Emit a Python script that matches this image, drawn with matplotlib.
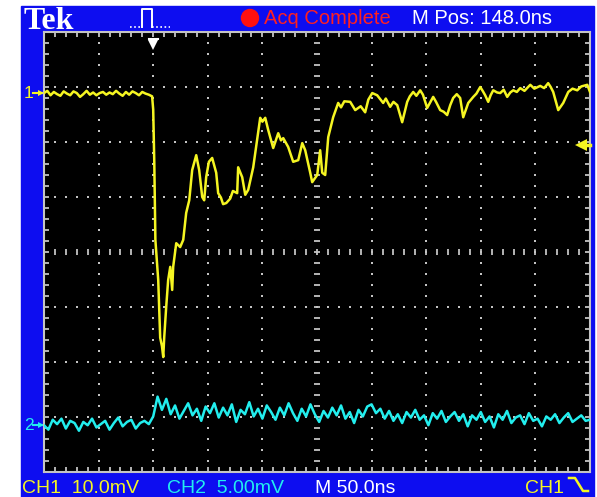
import numpy as np
import matplotlib
matplotlib.use('Agg')
import matplotlib.pyplot as plt
from matplotlib.collections import LineCollection
from matplotlib.patches import Rectangle, Ellipse
from matplotlib.lines import Line2D

W, H = 597, 497

# scope settings
ch1_scale = 10.0   # mV/div
ch2_scale = 5.0    # mV/div
ch1_pos = 2.89     # div
ch2_pos = -3.15    # div
trig_level_mv = -9.5

# CH1 before trigger (3 ns steps from -100 ns)
ch1_pre_mv = [0.0, 0.4, -0.4, 0.2, -0.2, -0.5, 0.3, -0.1, -0.4, 0.3,
              0.0, -0.7, -0.2, 0.4, -0.3, 0.1, -0.4, 0.0, 0.2, -0.3,
              0.1, -0.2, 0.4, -0.1, -0.5, 0.2, -0.3, 0.3, 0.0, -0.4,
              0.2, -0.1, -0.3, -0.6]

# CH1 after trigger
ch1_post_t = [0, 1, 2, 4.6, 6.4, 8, 9.2, 10.1, 11.9, 13.7,
              15.6, 17.4, 18.3, 21.1, 24.7, 27.5, 30.2, 33, 35.7, 39.4,
              42.1, 44.9, 46.7, 48.5, 51, 54, 57.7, 59.5, 62, 64,
              66.9, 70.5, 73, 76.9, 77.8, 81.5, 84.3, 87, 91.6, 95.2,
              98, 100, 102.6, 105.3, 109.9, 114.5, 117, 119.1, 123.6, 128.2,
              132.8, 136.5, 139.2, 143.8, 145.6, 150.2, 152.9, 154.8, 157.5, 160.3,
              164.8, 169.4, 172, 175, 180.4, 185, 190, 194.1, 197, 200.6,
              205.1, 210.6, 213, 217, 220, 223.5, 228, 232.6, 235, 238.1,
              241, 244.5, 247, 250.9, 256.4, 259, 262.8, 266, 269.2, 272,
              274.7, 278, 281.1, 283.9, 288.5, 293.1, 296, 299.5, 302, 304,
              306.8, 309, 311.4, 315, 317.8, 321, 324.2, 327, 329.7, 333,
              336.1, 340, 345.3, 349, 354.4, 358, 361.7, 364, 366.3, 370.9,
              375.5, 380.1, 384, 388.3, 392, 397.5, 400]
ch1_post_mv = [-3.0, -12.7, -26.7, -34.0, -44.5, -46.0, -48.0, -44.4, -38.9, -34.0,
               -31.6, -35.8, -31.6, -27.3, -28.0, -26.7, -21.8, -19.5, -14.0, -11.3,
               -14.0, -18.9, -19.5, -15.3, -12.5, -11.8, -14.5, -18.2, -19.0, -20.2,
               -20.0, -19.2, -17.8, -18.2, -13.5, -15.3, -18.5, -17.6, -13.5, -8.5,
               -4.5, -5.2, -4.5, -6.7, -10.0, -7.3, -8.6, -8.2, -9.8, -12.5,
               -12.2, -9.1, -10.4, -14.5, -16.2, -14.9, -10.4, -14.5, -14.9, -8.0,
               -4.4, -1.8, -2.6, -1.5, -1.6, -3.1, -2.4, -3.5, -1.2, 0.0,
               -0.4, -1.8, -1.0, -2.5, -1.6, -2.2, -5.3, -1.6, -0.6, 0.2,
               -0.5, 0.5, -0.3, -2.7, -0.7, -1.6, -3.1, -3.4, -4.0, -2.2,
               -0.9, -0.2, -0.9, -4.4, -1.8, -0.7, -0.1, 1.1, 0.3, -0.4,
               -1.6, -0.4, 0.5, 0.1, 0.0, 0.6, -0.7, 0.1, 0.5, 0.2,
               0.9, 0.4, 1.5, 0.8, 1.3, 0.9, 1.8, 1.1, 0.2, -3.1,
               -1.8, 0.2, 0.8, 0.5, 1.2, 1.5, 0.2]

# CH2, 4 ns steps from -100 ns to 400 ns
ch2_mv = [0.0, -0.4, 0.5, 0.1, 0.6, -0.3, 0.4, 0.2, -0.5, 0.3,
          0.0, 0.6, -0.2, 0.1, 0.4, -0.4, 0.2, 0.7, -0.1, 0.3,
          0.5, -0.3, 0.2, 0.4, 0.1,
          0.8, 2.6, 1.4, 2.4, 1.0, 1.8, 0.6, 1.3, 2.0, 0.9,
          1.5, 0.4, 1.7, 1.1, 2.0, 0.7, 1.6, 0.9, 1.9, 0.3,
          1.4, 1.0, 2.1, 0.8, 1.5,
          0.6, 1.8, 1.2, 0.5, 1.6, 0.9, 2.0, 1.1, 0.4, 1.5,
          0.8, 1.9, 1.0, 0.3, 1.3, 0.7, 1.6, 0.9, 1.8, 0.6,
          1.2, 0.2, 1.4, 0.8, 1.7,
          1.9, 1.1, 1.5, 0.6, 1.3, 0.4, 1.0, 0.2, 1.2, 0.7,
          1.4, 0.5, 0.9, 0.0, 1.1, 0.6, 1.3, 0.3, 0.8, 1.2,
          0.4, 1.0, -0.1, 0.9, 0.5,
          1.2, 0.3, 0.8, -0.2, 1.0, 0.5, 1.3, 0.2, 0.7, 0.9,
          0.1, 1.1, 0.4, 0.6, -0.1, 0.8, 0.5, 1.0, 0.2, 0.7,
          1.1, 0.3, 0.6, 0.9, 0.4,
          0.5]

ch1_t = np.concatenate([np.arange(-100, 0, 3), ch1_post_t])
ch1_v = np.concatenate([ch1_pre_mv, ch1_post_mv]) / ch1_scale + ch1_pos
ch2_t = np.arange(-100, 401, 4)
ch2_v = np.array(ch2_mv) / ch2_scale + ch2_pos

def fx(px):
    return px / W

def fy(py):
    return 1 - py / H

blue = '#0d0df0'
yellow = '#f5f522'
cyan = '#22eeee'
grid = '#c4c4c4'
font = 'Liberation Sans'

fig = plt.figure(figsize=(W / 100, H / 100), dpi=100, facecolor='white')
fig.add_artist(Rectangle((fx(21), 0), (594 - 21) / W, fy(6), transform=fig.transFigure,
                         color=blue, zorder=-5))

ax = fig.add_axes([fx(44), fy(472), 546 / W, 440 / H])
ax.set_facecolor('black')
ax.set_xlim(-100, 400)
ax.set_ylim(-4, 4)
ax.set_xticks([])
ax.set_yticks([])
for s in ax.spines.values():
    s.set_color(grid)
    s.set_linewidth(1.5)

minor_x = np.arange(-100, 401, 10)
minor_y = np.linspace(-4, 4, 41)

# dotted graticule
for xv in [-50, 0, 50, 100, 200, 250, 300, 350]:
    ax.plot(np.full(len(minor_y), xv), minor_y, ls='none', marker='s', ms=1.6, mew=0, color=grid)
for yv in [-3, -2, -1, 1, 2, 3]:
    ax.plot(minor_x, np.full(len(minor_x), yv), ls='none', marker='s', ms=1.6, mew=0, color=grid)

# centre line dashes and edge ticks
segs = []
for yv in minor_y[1:-1]:
    segs.append([(147, yv), (153, yv)])
    segs.append([(-100, yv), (-95.5, yv)])
    segs.append([(400, yv), (395.5, yv)])
for xv in minor_x[1:-1]:
    segs.append([(xv, -0.06), (xv, 0.06)])
    segs.append([(xv, 4), (xv, 3.91)])
    segs.append([(xv, -4), (xv, -3.91)])
ax.add_collection(LineCollection(segs, colors=grid, linewidths=1.3))

# traces
ax.plot(ch2_t, ch2_v, color=cyan, lw=1.8, zorder=4)
ax.plot(ch1_t, ch1_v, color=yellow, lw=1.8, zorder=5)

# trigger position and level markers
ax.plot([0], [3.76], marker='v', ms=7, color='white', mew=0, zorder=6)
ax.plot([-4, 4], [3.88, 3.88], color='white', lw=1.5, zorder=6)
trig_div = trig_level_mv / ch1_scale + ch1_pos
ax.plot([392], [trig_div], marker='<', ms=9, color=yellow, mew=0, clip_on=False, zorder=6)
ax.plot([392, 400], [trig_div, trig_div], color=yellow, lw=2.5, clip_on=False, zorder=6)

# channel ground markers
for lvl, col, lab in [(ch1_pos, yellow, '1'), (ch2_pos, cyan, '2')]:
    ax.plot([-110, -102], [lvl, lvl], color=col, lw=1.5, clip_on=False)
    ax.plot([-102.5], [lvl], marker='>', ms=5, color=col, mew=0, clip_on=False)
    ax.text(-114, lvl, lab, color=col, fontsize=12.5, ha='center', va='center',
            family=font, clip_on=False)

# top bar
fig.text(fx(24), fy(29), 'Tek', color='white', fontsize=23, weight='bold',
         family='Liberation Serif', va='baseline')
fig.add_artist(Line2D([fx(130), fx(142)], [fy(27), fy(27)], transform=fig.transFigure,
                      color='white', lw=1.2, ls=(0, (1, 1.5))))
fig.add_artist(Line2D([fx(142), fx(142), fx(152), fx(152)], [fy(27), fy(9), fy(9), fy(27)],
                      transform=fig.transFigure, color='white', lw=1.4))
fig.add_artist(Line2D([fx(152), fx(170)], [fy(27), fy(27)], transform=fig.transFigure,
                      color='white', lw=1.2, ls=(0, (1, 1.5))))
fig.add_artist(Ellipse((fx(250), fy(18)), 17 / W, 17 / H, transform=fig.transFigure,
                       color='#ff1010'))
fig.text(fx(264), fy(24), 'Acq Complete', color='#ff2020', fontsize=14.5,
         family=font, va='baseline')
fig.text(fx(412), fy(24), 'M Pos: 148.0ns', color='white', fontsize=14.5,
         family=font, va='baseline')

# bottom bar
bot = [(22, 'CH1  10.0mV', yellow), (167, 'CH2  5.00mV', cyan),
       (315, 'M 50.0ns', 'white'), (525, 'CH1', yellow)]
for px, s, col in bot:
    fig.text(fx(px), fy(493), s, color=col, fontsize=14, family=font, va='baseline')
fig.add_artist(Line2D([fx(569), fx(575), fx(583), fx(588)], [fy(478), fy(478), fy(491), fy(491)],
                      transform=fig.transFigure, color=yellow, lw=1.8))

fig.savefig('out.png', dpi=100, facecolor='white')
